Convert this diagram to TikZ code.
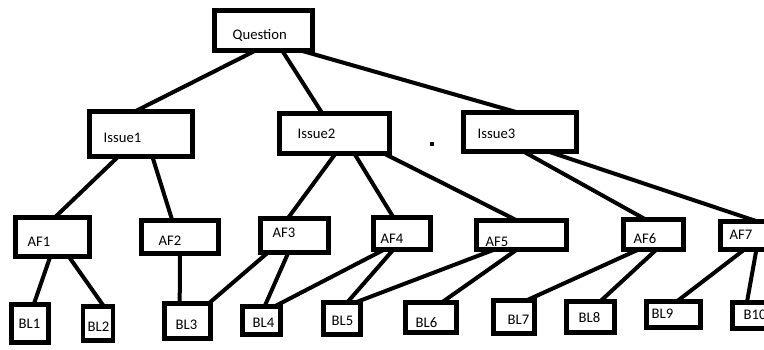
\documentclass[tikz,border=0pt]{standalone}
\usepackage{fontspec}
\setmainfont{Carlito}
\usetikzlibrary{calc}

\begin{document}
\begin{tikzpicture}[x=1pt,y=-1pt]
\def\boxcol{black}
\def\linecol{black}

\tikzset{box/.style={draw=\boxcol, rectangle, line width=4.6pt, inner sep=0pt, outer sep=0pt}}
\tikzset{lbl/.style={anchor=base west, inner sep=0pt, font=\fontsize{14.67}{17}\selectfont}}
\tikzset{conn/.style={draw=\linecol, line width=4pt}}
\useasboundingbox (0,0) rectangle (764,349);

%%%%%% Question
\node(q)at(263.5,30.5)[box,minimum width=98pt,minimum height=40pt]{};
\node(qtxt)at($(q.west)+(18,8.5)$)[lbl]{Question};

%%%%%% Issues
\node(i1)at(141,134)[box,minimum width=103pt,minimum height=45pt]{};
\node(i1txt)at($(i1.west)+(14,8)$)[lbl]{Issue1};
\node(i2)at(334.5,133.5)[box,minimum width=110pt,minimum height=40pt]{};
\node(i2txt)at($(i2.west)+(18,4.5)$)[lbl]{Issue2};
\node(i3)at(520,132)[box,minimum width=113pt,minimum height=39pt]{};
\node(i3txt)at($(i3.west)+(14,6)$)[lbl]{Issue3};
\node(dot)at(432,144)[fill=black,minimum size=4.5pt,inner sep=0pt]{};

%%%%%% AF row
\node(af1)at(52.5,237)[box,minimum width=74pt,minimum height=39pt]{};
\node(af1txt)at($(af1.west)+(12,9)$)[lbl]{AF1};
\node(af2)at(180,237)[box,minimum width=77pt,minimum height=33pt]{};
\node(af2txt)at($(af2.west)+(17,8)$)[lbl]{AF2};
\node(af3)at(294.5,235.5)[box,minimum width=68pt,minimum height=34pt]{};
\node(af3txt)at($(af3.west)+(12,1.5)$)[lbl]{AF3};
\node(af4)at(402,233.5)[box,minimum width=57pt,minimum height=32pt]{};
\node(af4txt)at($(af4.west)+(7,9.5)$)[lbl]{AF4};
\node(af5)at(521.5,235)[box,minimum width=90pt,minimum height=29pt]{};
\node(af5txt)at($(af5.west)+(9,11)$)[lbl]{AF5};
\node(af6)at(653.5,234.5)[box,minimum width=60pt,minimum height=30pt]{};
\node(af6txt)at($(af6.west)+(10,8.5)$)[lbl]{AF6};
\node(af7)at(749,235.5)[box,minimum width=57pt,minimum height=28pt]{};
\node(af7txt)at($(af7.west)+(9,3.5)$)[lbl]{AF7};

%%%%%% BL row
\node(bl1)at(30,323.5)[box,minimum width=37pt,minimum height=38pt]{};
\node(bl1txt)at($(bl1.west)+(7,4.5)$)[lbl]{BL1};
\node(bl2)at(98,323.5)[box,minimum width=30pt,minimum height=34pt]{};
\node(bl2txt)at($(bl2.west)+(4.5,7.5)$)[lbl]{BL2};
\node(bl3)at(187.5,321)[box,minimum width=46pt,minimum height=35pt]{};
\node(bl3txt)at($(bl3.west)+(11,8)$)[lbl]{BL3};
\node(bl4)at(261.5,320.5)[box,minimum width=38pt,minimum height=28pt]{};
\node(bl4txt)at($(bl4.west)+(10,6.5)$)[lbl]{BL4};
\node(bl5)at(342,318.5)[box,minimum width=37pt,minimum height=32pt]{};
\node(bl5txt)at($(bl5.west)+(8,6.5)$)[lbl]{BL5};
\node(bl6)at(431,317.5)[box,minimum width=51pt,minimum height=30pt]{};
\node(bl6txt)at($(bl6.west)+(10,9.5)$)[lbl]{BL6};
\node(bl7)at(514,317)[box,minimum width=41pt,minimum height=33pt]{};
\node(bl7txt)at($(bl7.west)+(14,7)$)[lbl]{BL7};
\node(bl8)at(590.5,317)[box,minimum width=48pt,minimum height=31pt]{};
\node(bl8txt)at($(bl8.west)+(12,5)$)[lbl]{BL8};
\node(bl9)at(673.5,314.5)[box,minimum width=54pt,minimum height=26pt]{};
\node(bl9txt)at($(bl9.west)+(5,4)$)[lbl]{BL9};
\node(b10)at(752.5,315.5)[box,minimum width=40pt,minimum height=26pt]{};
\node(b10txt)at($(b10.west)+(11,3.5)$)[lbl]{B10};

%%%%%% Question to issues
\draw[conn] ($(q.south west)!.42!(q.south east)$) -- ($(i1.north west)!.44!(i1.north east)$);
\draw[conn] ($(q.south west)!.69!(q.south east)$) -- ($(i2.north west)!.39!(i2.north east)$);
\draw[conn] ($(q.south west)!.88!(q.south east)$) -- ($(i3.north west)!.48!(i3.north east)$);

%%%%%% issues to AF
\draw[conn] ($(i1.south west)!.28!(i1.south east)$) -- ($(af1.north west)!.53!(af1.north east)$);
\draw[conn] ($(i1.south west)!.61!(i1.south east)$) -- ($(af2.north west)!.40!(af2.north east)$);
\draw[conn] ($(i2.south west)!.51!(i2.south east)$) -- ($(af3.north west)!.40!(af3.north east)$);
\draw[conn] ($(i2.south west)!.68!(i2.south east)$) -- ($(af4.north west)!.35!(af4.north east)$);
\draw[conn] ($(i2.south west)!.95!(i2.south east)$) -- ($(af5.north west)!.45!(af5.north east)$);
\draw[conn] ($(i3.south west)!.53!(i3.south east)$) -- ($(af6.north west)!.37!(af6.north east)$);
\draw[conn] ($(i3.south west)!.75!(i3.south east)$) -- ($(af7.north west)!.65!(af7.north east)$);

%%%%%% AF to BL
\draw[conn] ($(af1.south west)!.47!(af1.south east)$) -- ($(bl1.north west)!.60!(bl1.north east)$);
\draw[conn] ($(af1.south west)!.72!(af1.south east)$) -- ($(bl2.north west)!.70!(bl2.north east)$);
\draw[conn] ($(af2.south west)!.50!(af2.south east)$) -- ($(bl3.north west)!.33!(bl3.north east)$);
\draw[conn] ($(af3.south west)!.11!(af3.south east)$) -- ($(bl3.north west)!.96!(bl3.north east)$);
\draw[conn] ($(af3.south west)!.41!(af3.south east)$) -- ($(bl4.north west)!.58!(bl4.north east)$);
\draw[conn] ($(af4.south west)!.19!(af4.south east)$) -- ($(bl4.north west)!.84!(bl4.north east)$);
\draw[conn] ($(af4.south west)!.35!(af4.south east)$) -- ($(bl5.north west)!.64!(bl5.north east)$);
\draw[conn] ($(af5.south west)!.20!(af5.south east)$) -- ($(bl5.north west)!.86!(bl5.north east)$);
\draw[conn] ($(af5.south west)!.45!(af5.south east)$) -- ($(bl6.north west)!.71!(bl6.north east)$);
\draw[conn] ($(af6.south west)!.25!(af6.south east)$) -- ($(bl7.north west)!.80!(bl7.north east)$);
\draw[conn] ($(af6.south west)!.55!(af6.south east)$) -- ($(bl8.north west)!.70!(bl8.north east)$);
\draw[conn] ($(af7.south west)!.42!(af7.south east)$) -- ($(bl9.north west)!.56!(bl9.north east)$);
\draw[conn] ($(af7.south west)!.63!(af7.south east)$) -- ($(b10.north west)!.36!(b10.north east)$);
\end{tikzpicture}
\end{document}
